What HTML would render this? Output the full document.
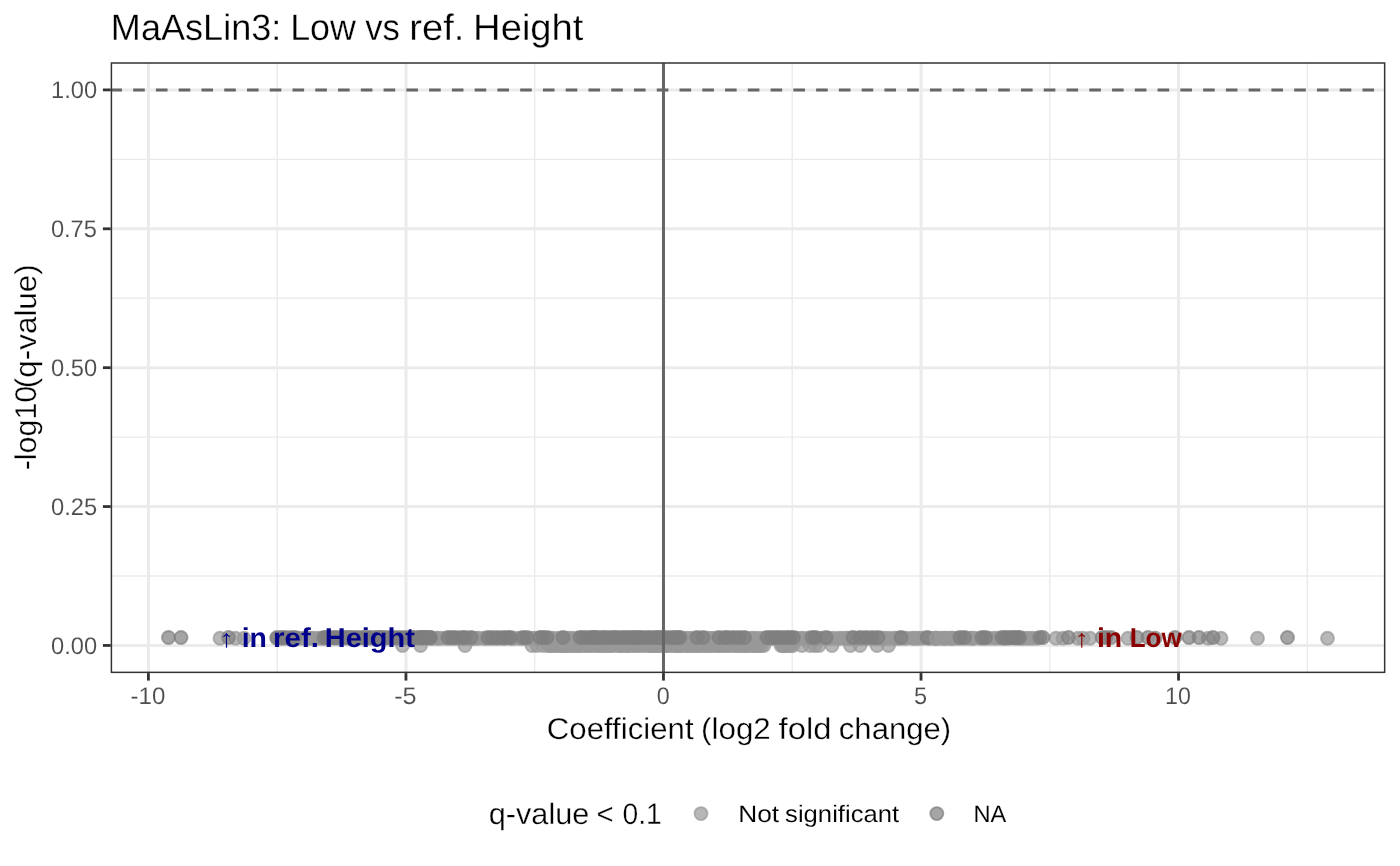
<!DOCTYPE html>
<html lang="en"><head><meta charset="utf-8"><title>MaAsLin3: Low vs ref. Height</title>
<style>
html,body{margin:0;padding:0;background:#fff;}
body{width:1400px;height:866px;overflow:hidden;}
svg{display:block;}
text{font-family:"Liberation Sans", "DejaVu Sans", sans-serif;text-rendering:geometricPrecision;}
.thin{stroke:#ffffff;stroke-width:0.3px;}
.thin2{stroke:#ffffff;stroke-width:0.1px;}
.ttl{fill:#000;}
.pl circle{fill:#999999;fill-opacity:.7;stroke:#999999;stroke-opacity:.7;stroke-width:1.9;}
.pd circle{fill:#7f7f7f;fill-opacity:.7;stroke:#7f7f7f;stroke-opacity:.7;stroke-width:1.9;}
</style></head><body>
<svg width="1400" height="866" viewBox="0 0 1400 866">
<rect width="1400" height="866" fill="#ffffff"/>
<defs><clipPath id="pc"><rect x="111.40" y="63.00" width="1273.25" height="609.35"/></clipPath></defs>
<g clip-path="url(#pc)">
<g stroke="#ebebeb" stroke-width="1.4" fill="none">
<line x1="277.19" y1="63.0" x2="277.19" y2="672.4"/>
<line x1="534.72" y1="63.0" x2="534.72" y2="672.4"/>
<line x1="792.25" y1="63.0" x2="792.25" y2="672.4"/>
<line x1="1049.78" y1="63.0" x2="1049.78" y2="672.4"/>
<line x1="1307.31" y1="63.0" x2="1307.31" y2="672.4"/>
<line x1="111.4" y1="576.01" x2="1384.7" y2="576.01"/>
<line x1="111.4" y1="437.12" x2="1384.7" y2="437.12"/>
<line x1="111.4" y1="298.23" x2="1384.7" y2="298.23"/>
<line x1="111.4" y1="159.34" x2="1384.7" y2="159.34"/>
</g>
<g stroke="#ebebeb" stroke-width="3" fill="none">
<line x1="148.42" y1="63.0" x2="148.42" y2="672.4"/>
<line x1="405.95" y1="63.0" x2="405.95" y2="672.4"/>
<line x1="663.48" y1="63.0" x2="663.48" y2="672.4"/>
<line x1="921.01" y1="63.0" x2="921.01" y2="672.4"/>
<line x1="1178.54" y1="63.0" x2="1178.54" y2="672.4"/>
<line x1="111.4" y1="645.45" x2="1384.7" y2="645.45"/>
<line x1="111.4" y1="506.56" x2="1384.7" y2="506.56"/>
<line x1="111.4" y1="367.68" x2="1384.7" y2="367.68"/>
<line x1="111.4" y1="228.79" x2="1384.7" y2="228.79"/>
<line x1="111.4" y1="89.90" x2="1384.7" y2="89.90"/>
</g>
<g class="pl">
<circle cx="488.7" cy="638.3" r="6.5"/><circle cx="1257.5" cy="638.3" r="6.5"/><circle cx="942.7" cy="638.3" r="6.5"/><circle cx="781.0" cy="645.5" r="6.5"/><circle cx="473.8" cy="638.3" r="6.5"/><circle cx="702.7" cy="645.5" r="6.5"/><circle cx="838.2" cy="638.3" r="6.5"/><circle cx="414.2" cy="638.3" r="6.5"/><circle cx="673.1" cy="638.3" r="6.5"/><circle cx="815.0" cy="645.5" r="6.5"/><circle cx="472.4" cy="638.3" r="6.5"/><circle cx="567.4" cy="645.5" r="6.5"/><circle cx="429.7" cy="638.3" r="6.5"/><circle cx="911.9" cy="638.3" r="6.5"/><circle cx="742.9" cy="638.3" r="6.5"/><circle cx="761.7" cy="645.5" r="6.5"/><circle cx="740.5" cy="645.5" r="6.5"/><circle cx="449.0" cy="638.3" r="6.5"/><circle cx="659.4" cy="645.5" r="6.5"/><circle cx="316.0" cy="638.3" r="6.5"/><circle cx="854.3" cy="638.3" r="6.5"/><circle cx="785.7" cy="638.3" r="6.5"/><circle cx="727.6" cy="645.5" r="6.5"/><circle cx="1008.8" cy="638.3" r="6.5"/><circle cx="700.1" cy="638.3" r="6.5"/><circle cx="339.2" cy="638.3" r="6.5"/><circle cx="1090.0" cy="638.3" r="6.5"/><circle cx="1037.0" cy="638.3" r="6.5"/><circle cx="464.0" cy="638.3" r="6.5"/><circle cx="235.5" cy="638.3" r="6.5"/><circle cx="752.8" cy="645.5" r="6.5"/><circle cx="619.4" cy="645.5" r="6.5"/><circle cx="922.7" cy="638.3" r="6.5"/><circle cx="651.4" cy="645.5" r="6.5"/><circle cx="997.4" cy="638.3" r="6.5"/><circle cx="578.5" cy="645.5" r="6.5"/><circle cx="777.9" cy="638.3" r="6.5"/><circle cx="657.9" cy="645.5" r="6.5"/><circle cx="750.2" cy="638.3" r="6.5"/><circle cx="832.0" cy="645.5" r="6.5"/><circle cx="746.6" cy="645.5" r="6.5"/><circle cx="699.6" cy="645.5" r="6.5"/><circle cx="588.3" cy="645.5" r="6.5"/><circle cx="394.7" cy="638.3" r="6.5"/><circle cx="994.1" cy="638.3" r="6.5"/><circle cx="654.8" cy="645.5" r="6.5"/><circle cx="590.8" cy="638.3" r="6.5"/><circle cx="572.9" cy="645.5" r="6.5"/><circle cx="873.6" cy="638.3" r="6.5"/><circle cx="433.1" cy="638.3" r="6.5"/><circle cx="764.5" cy="638.3" r="6.5"/><circle cx="693.7" cy="638.3" r="6.5"/><circle cx="441.9" cy="638.3" r="6.5"/><circle cx="438.3" cy="638.3" r="6.5"/><circle cx="430.5" cy="638.3" r="6.5"/><circle cx="847.4" cy="638.3" r="6.5"/><circle cx="759.4" cy="645.5" r="6.5"/><circle cx="648.3" cy="645.5" r="6.5"/><circle cx="841.2" cy="638.3" r="6.5"/><circle cx="711.3" cy="645.5" r="6.5"/><circle cx="553.4" cy="645.5" r="6.5"/><circle cx="476.3" cy="638.3" r="6.5"/><circle cx="600.5" cy="645.5" r="6.5"/><circle cx="821.8" cy="638.3" r="6.5"/><circle cx="535.1" cy="638.3" r="6.5"/><circle cx="827.0" cy="638.3" r="6.5"/><circle cx="418.7" cy="638.3" r="6.5"/><circle cx="390.2" cy="638.3" r="6.5"/><circle cx="782.5" cy="645.5" r="6.5"/><circle cx="1083.0" cy="638.3" r="6.5"/><circle cx="421.5" cy="638.3" r="6.5"/><circle cx="566.8" cy="638.3" r="6.5"/><circle cx="731.8" cy="638.3" r="6.5"/><circle cx="716.4" cy="638.3" r="6.5"/><circle cx="357.6" cy="638.3" r="6.5"/><circle cx="637.5" cy="645.5" r="6.5"/><circle cx="697.7" cy="645.5" r="6.5"/><circle cx="794.1" cy="638.3" r="6.5"/><circle cx="557.7" cy="645.5" r="6.5"/><circle cx="537.0" cy="645.5" r="6.5"/><circle cx="638.7" cy="645.5" r="6.5"/><circle cx="1063.0" cy="638.3" r="6.5"/><circle cx="354.8" cy="638.3" r="6.5"/><circle cx="465.0" cy="645.5" r="6.5"/><circle cx="755.8" cy="638.3" r="6.5"/><circle cx="966.8" cy="638.3" r="6.5"/><circle cx="756.7" cy="645.5" r="6.5"/><circle cx="800.8" cy="638.3" r="6.5"/><circle cx="446.3" cy="638.3" r="6.5"/><circle cx="674.4" cy="645.5" r="6.5"/><circle cx="642.7" cy="645.5" r="6.5"/><circle cx="410.3" cy="638.3" r="6.5"/><circle cx="738.0" cy="638.3" r="6.5"/><circle cx="668.6" cy="645.5" r="6.5"/><circle cx="392.0" cy="638.3" r="6.5"/><circle cx="320.2" cy="638.3" r="6.5"/><circle cx="687.4" cy="638.3" r="6.5"/><circle cx="402.5" cy="645.5" r="6.5"/><circle cx="636.1" cy="638.3" r="6.5"/><circle cx="655.2" cy="638.3" r="6.5"/><circle cx="608.2" cy="638.3" r="6.5"/><circle cx="683.8" cy="638.3" r="6.5"/><circle cx="347.4" cy="638.3" r="6.5"/><circle cx="694.2" cy="645.5" r="6.5"/><circle cx="299.1" cy="638.3" r="6.5"/><circle cx="495.3" cy="638.3" r="6.5"/><circle cx="596.7" cy="638.3" r="6.5"/><circle cx="479.0" cy="638.3" r="6.5"/><circle cx="621.0" cy="638.3" r="6.5"/><circle cx="951.0" cy="638.3" r="6.5"/><circle cx="829.7" cy="638.3" r="6.5"/><circle cx="963.5" cy="638.3" r="6.5"/><circle cx="747.2" cy="645.5" r="6.5"/><circle cx="567.6" cy="645.5" r="6.5"/><circle cx="286.5" cy="638.3" r="6.5"/><circle cx="1033.0" cy="638.3" r="6.5"/><circle cx="676.5" cy="645.5" r="6.5"/><circle cx="744.6" cy="645.5" r="6.5"/><circle cx="644.8" cy="638.3" r="6.5"/><circle cx="960.1" cy="638.3" r="6.5"/><circle cx="1128.0" cy="638.3" r="6.5"/><circle cx="548.9" cy="638.3" r="6.5"/><circle cx="657.4" cy="645.5" r="6.5"/><circle cx="772.4" cy="638.3" r="6.5"/><circle cx="625.7" cy="645.5" r="6.5"/><circle cx="945.4" cy="638.3" r="6.5"/><circle cx="548.5" cy="645.5" r="6.5"/><circle cx="732.0" cy="645.5" r="6.5"/><circle cx="789.2" cy="645.5" r="6.5"/><circle cx="650.0" cy="645.5" r="6.5"/><circle cx="787.1" cy="645.5" r="6.5"/><circle cx="279.6" cy="638.3" r="6.5"/><circle cx="974.5" cy="638.3" r="6.5"/><circle cx="629.7" cy="638.3" r="6.5"/><circle cx="608.2" cy="645.5" r="6.5"/><circle cx="632.5" cy="645.5" r="6.5"/><circle cx="934.2" cy="638.3" r="6.5"/><circle cx="561.3" cy="638.3" r="6.5"/><circle cx="1004.2" cy="638.3" r="6.5"/><circle cx="989.6" cy="638.3" r="6.5"/><circle cx="550.3" cy="638.3" r="6.5"/><circle cx="791.4" cy="638.3" r="6.5"/><circle cx="850.5" cy="645.5" r="6.5"/><circle cx="1020.3" cy="638.3" r="6.5"/><circle cx="904.4" cy="638.3" r="6.5"/><circle cx="936.4" cy="638.3" r="6.5"/><circle cx="820.1" cy="638.3" r="6.5"/><circle cx="1029.5" cy="638.3" r="6.5"/><circle cx="563.1" cy="645.5" r="6.5"/><circle cx="790.7" cy="645.5" r="6.5"/><circle cx="398.0" cy="638.3" r="6.5"/><circle cx="644.8" cy="645.5" r="6.5"/><circle cx="898.1" cy="638.3" r="6.5"/><circle cx="220.0" cy="638.3" r="6.5"/><circle cx="584.9" cy="645.5" r="6.5"/><circle cx="350.5" cy="638.3" r="6.5"/><circle cx="558.3" cy="638.3" r="6.5"/><circle cx="679.1" cy="645.5" r="6.5"/><circle cx="565.5" cy="638.3" r="6.5"/><circle cx="664.3" cy="645.5" r="6.5"/><circle cx="770.3" cy="638.3" r="6.5"/><circle cx="545.5" cy="638.3" r="6.5"/><circle cx="779.8" cy="638.3" r="6.5"/><circle cx="677.2" cy="638.3" r="6.5"/><circle cx="581.2" cy="645.5" r="6.5"/><circle cx="543.1" cy="638.3" r="6.5"/><circle cx="785.4" cy="645.5" r="6.5"/><circle cx="693.7" cy="645.5" r="6.5"/><circle cx="713.2" cy="638.3" r="6.5"/><circle cx="648.1" cy="638.3" r="6.5"/><circle cx="569.3" cy="638.3" r="6.5"/><circle cx="690.2" cy="638.3" r="6.5"/><circle cx="857.9" cy="638.3" r="6.5"/><circle cx="306.8" cy="638.3" r="6.5"/><circle cx="783.7" cy="645.5" r="6.5"/><circle cx="745.6" cy="638.3" r="6.5"/><circle cx="819.0" cy="645.5" r="6.5"/><circle cx="753.0" cy="638.3" r="6.5"/><circle cx="718.0" cy="645.5" r="6.5"/><circle cx="808.1" cy="638.3" r="6.5"/><circle cx="753.6" cy="645.5" r="6.5"/><circle cx="407.0" cy="638.3" r="6.5"/><circle cx="628.4" cy="645.5" r="6.5"/><circle cx="308.7" cy="638.3" r="6.5"/><circle cx="622.5" cy="645.5" r="6.5"/><circle cx="900.4" cy="638.3" r="6.5"/><circle cx="333.5" cy="638.3" r="6.5"/><circle cx="623.2" cy="638.3" r="6.5"/><circle cx="523.9" cy="638.3" r="6.5"/><circle cx="1208.0" cy="638.3" r="6.5"/><circle cx="381.0" cy="638.3" r="6.5"/><circle cx="690.2" cy="645.5" r="6.5"/><circle cx="548.8" cy="645.5" r="6.5"/><circle cx="587.4" cy="638.3" r="6.5"/><circle cx="881.5" cy="638.3" r="6.5"/><circle cx="810.0" cy="645.5" r="6.5"/><circle cx="1001.6" cy="638.3" r="6.5"/><circle cx="750.6" cy="645.5" r="6.5"/><circle cx="385.7" cy="638.3" r="6.5"/><circle cx="725.3" cy="638.3" r="6.5"/><circle cx="916.7" cy="638.3" r="6.5"/><circle cx="766.7" cy="638.3" r="6.5"/><circle cx="706.8" cy="638.3" r="6.5"/><circle cx="860.0" cy="645.5" r="6.5"/><circle cx="736.4" cy="645.5" r="6.5"/><circle cx="735.7" cy="645.5" r="6.5"/><circle cx="720.9" cy="638.3" r="6.5"/><circle cx="697.4" cy="638.3" r="6.5"/><circle cx="970.7" cy="638.3" r="6.5"/><circle cx="1017.1" cy="638.3" r="6.5"/><circle cx="592.7" cy="638.3" r="6.5"/><circle cx="1221.0" cy="638.3" r="6.5"/><circle cx="562.8" cy="645.5" r="6.5"/><circle cx="452.7" cy="638.3" r="6.5"/><circle cx="366.0" cy="638.3" r="6.5"/><circle cx="893.3" cy="638.3" r="6.5"/><circle cx="566.0" cy="645.5" r="6.5"/><circle cx="956.6" cy="638.3" r="6.5"/><circle cx="816.8" cy="638.3" r="6.5"/><circle cx="725.4" cy="645.5" r="6.5"/><circle cx="512.1" cy="638.3" r="6.5"/><circle cx="295.6" cy="638.3" r="6.5"/><circle cx="792.9" cy="645.5" r="6.5"/><circle cx="621.8" cy="645.5" r="6.5"/><circle cx="617.8" cy="645.5" r="6.5"/><circle cx="980.1" cy="638.3" r="6.5"/><circle cx="598.2" cy="645.5" r="6.5"/><circle cx="485.7" cy="638.3" r="6.5"/><circle cx="324.0" cy="638.3" r="6.5"/><circle cx="757.8" cy="645.5" r="6.5"/><circle cx="613.3" cy="638.3" r="6.5"/><circle cx="601.6" cy="645.5" r="6.5"/><circle cx="576.3" cy="645.5" r="6.5"/><circle cx="877.0" cy="645.5" r="6.5"/><circle cx="669.7" cy="638.3" r="6.5"/><circle cx="597.1" cy="645.5" r="6.5"/><circle cx="705.3" cy="645.5" r="6.5"/><circle cx="940.2" cy="638.3" r="6.5"/><circle cx="860.0" cy="638.3" r="6.5"/><circle cx="727.1" cy="638.3" r="6.5"/><circle cx="763.9" cy="645.5" r="6.5"/><circle cx="650.8" cy="638.3" r="6.5"/><circle cx="1327.5" cy="638.3" r="6.5"/><circle cx="1022.9" cy="638.3" r="6.5"/><circle cx="682.5" cy="645.5" r="6.5"/><circle cx="336.8" cy="638.3" r="6.5"/><circle cx="833.5" cy="638.3" r="6.5"/><circle cx="572.6" cy="638.3" r="6.5"/><circle cx="497.6" cy="638.3" r="6.5"/><circle cx="919.5" cy="638.3" r="6.5"/><circle cx="671.6" cy="638.3" r="6.5"/><circle cx="528.4" cy="638.3" r="6.5"/><circle cx="283.4" cy="638.3" r="6.5"/><circle cx="869.1" cy="638.3" r="6.5"/><circle cx="303.1" cy="638.3" r="6.5"/><circle cx="888.7" cy="638.3" r="6.5"/><circle cx="461.7" cy="638.3" r="6.5"/><circle cx="906.5" cy="638.3" r="6.5"/><circle cx="613.6" cy="645.5" r="6.5"/><circle cx="570.5" cy="645.5" r="6.5"/><circle cx="862.1" cy="638.3" r="6.5"/><circle cx="844.6" cy="638.3" r="6.5"/><circle cx="519.0" cy="638.3" r="6.5"/><circle cx="796.6" cy="638.3" r="6.5"/><circle cx="1155.0" cy="638.3" r="6.5"/><circle cx="802.0" cy="645.5" r="6.5"/><circle cx="875.6" cy="638.3" r="6.5"/><circle cx="783.7" cy="638.3" r="6.5"/><circle cx="715.0" cy="645.5" r="6.5"/><circle cx="292.4" cy="638.3" r="6.5"/><circle cx="739.1" cy="645.5" r="6.5"/><circle cx="704.5" cy="638.3" r="6.5"/><circle cx="666.5" cy="638.3" r="6.5"/><circle cx="580.3" cy="645.5" r="6.5"/><circle cx="642.1" cy="638.3" r="6.5"/><circle cx="851.4" cy="638.3" r="6.5"/><circle cx="469.7" cy="638.3" r="6.5"/><circle cx="351.7" cy="638.3" r="6.5"/><circle cx="532.0" cy="645.5" r="6.5"/><circle cx="458.9" cy="638.3" r="6.5"/><circle cx="680.2" cy="645.5" r="6.5"/><circle cx="667.0" cy="645.5" r="6.5"/><circle cx="863.9" cy="638.3" r="6.5"/><circle cx="309.9" cy="638.3" r="6.5"/><circle cx="985.7" cy="638.3" r="6.5"/><circle cx="555.8" cy="645.5" r="6.5"/><circle cx="1006.1" cy="638.3" r="6.5"/><circle cx="936.0" cy="638.3" r="6.5"/><circle cx="689.0" cy="645.5" r="6.5"/><circle cx="329.9" cy="638.3" r="6.5"/><circle cx="709.8" cy="638.3" r="6.5"/><circle cx="500.4" cy="638.3" r="6.5"/><circle cx="626.6" cy="645.5" r="6.5"/><circle cx="866.9" cy="638.3" r="6.5"/><circle cx="685.7" cy="645.5" r="6.5"/><circle cx="1078.0" cy="638.3" r="6.5"/><circle cx="593.3" cy="645.5" r="6.5"/><circle cx="605.0" cy="645.5" r="6.5"/><circle cx="709.0" cy="645.5" r="6.5"/><circle cx="531.7" cy="638.3" r="6.5"/><circle cx="281.6" cy="638.3" r="6.5"/><circle cx="436.9" cy="638.3" r="6.5"/><circle cx="760.2" cy="638.3" r="6.5"/><circle cx="803.3" cy="638.3" r="6.5"/><circle cx="952.0" cy="638.3" r="6.5"/><circle cx="553.4" cy="638.3" r="6.5"/><circle cx="776.2" cy="638.3" r="6.5"/><circle cx="605.2" cy="645.5" r="6.5"/><circle cx="378.3" cy="638.3" r="6.5"/><circle cx="1056.0" cy="638.3" r="6.5"/><circle cx="704.8" cy="645.5" r="6.5"/><circle cx="611.5" cy="645.5" r="6.5"/><circle cx="653.4" cy="645.5" r="6.5"/><circle cx="491.9" cy="638.3" r="6.5"/><circle cx="420.5" cy="645.5" r="6.5"/><circle cx="710.5" cy="645.5" r="6.5"/><circle cx="327.7" cy="638.3" r="6.5"/><circle cx="514.2" cy="638.3" r="6.5"/><circle cx="591.2" cy="645.5" r="6.5"/><circle cx="609.3" cy="645.5" r="6.5"/><circle cx="509.8" cy="638.3" r="6.5"/><circle cx="289.5" cy="638.3" r="6.5"/><circle cx="400.1" cy="638.3" r="6.5"/><circle cx="742.6" cy="645.5" r="6.5"/><circle cx="718.0" cy="645.5" r="6.5"/><circle cx="276.6" cy="638.3" r="6.5"/><circle cx="814.2" cy="638.3" r="6.5"/><circle cx="930.0" cy="638.3" r="6.5"/><circle cx="672.0" cy="645.5" r="6.5"/><circle cx="972.5" cy="638.3" r="6.5"/><circle cx="244.0" cy="638.3" r="6.5"/><circle cx="371.5" cy="638.3" r="6.5"/><circle cx="945.0" cy="638.3" r="6.5"/><circle cx="953.5" cy="638.3" r="6.5"/><circle cx="665.9" cy="645.5" r="6.5"/><circle cx="368.4" cy="638.3" r="6.5"/><circle cx="663.3" cy="645.5" r="6.5"/><circle cx="577.0" cy="638.3" r="6.5"/><circle cx="888.5" cy="645.5" r="6.5"/><circle cx="1026.0" cy="638.3" r="6.5"/><circle cx="697.3" cy="645.5" r="6.5"/><circle cx="609.4" cy="638.3" r="6.5"/><circle cx="849.1" cy="638.3" r="6.5"/><circle cx="312.4" cy="638.3" r="6.5"/><circle cx="735.5" cy="638.3" r="6.5"/><circle cx="504.7" cy="638.3" r="6.5"/><circle cx="587.1" cy="645.5" r="6.5"/><circle cx="662.3" cy="638.3" r="6.5"/><circle cx="455.2" cy="638.3" r="6.5"/><circle cx="729.0" cy="645.5" r="6.5"/><circle cx="601.8" cy="638.3" r="6.5"/><circle cx="503.9" cy="638.3" r="6.5"/><circle cx="603.5" cy="638.3" r="6.5"/><circle cx="914.2" cy="638.3" r="6.5"/><circle cx="521.3" cy="638.3" r="6.5"/><circle cx="626.0" cy="638.3" r="6.5"/><circle cx="615.6" cy="638.3" r="6.5"/><circle cx="809.4" cy="638.3" r="6.5"/><circle cx="640.8" cy="638.3" r="6.5"/><circle cx="574.3" cy="645.5" r="6.5"/><circle cx="658.7" cy="638.3" r="6.5"/><circle cx="720.3" cy="645.5" r="6.5"/><circle cx="681.4" cy="638.3" r="6.5"/><circle cx="403.9" cy="638.3" r="6.5"/><circle cx="677.4" cy="645.5" r="6.5"/><circle cx="543.0" cy="645.5" r="6.5"/><circle cx="582.3" cy="638.3" r="6.5"/><circle cx="687.0" cy="645.5" r="6.5"/><circle cx="629.4" cy="645.5" r="6.5"/><circle cx="948.2" cy="638.3" r="6.5"/><circle cx="877.9" cy="638.3" r="6.5"/><circle cx="424.6" cy="638.3" r="6.5"/><circle cx="579.7" cy="638.3" r="6.5"/><circle cx="484.1" cy="638.3" r="6.5"/><circle cx="928.2" cy="638.3" r="6.5"/><circle cx="723.5" cy="645.5" r="6.5"/><circle cx="1013.6" cy="638.3" r="6.5"/><circle cx="885.2" cy="638.3" r="6.5"/><circle cx="362.6" cy="638.3" r="6.5"/><circle cx="539.4" cy="638.3" r="6.5"/><circle cx="343.1" cy="638.3" r="6.5"/><circle cx="635.3" cy="645.5" r="6.5"/><circle cx="632.3" cy="638.3" r="6.5"/><circle cx="322.8" cy="638.3" r="6.5"/><circle cx="375.0" cy="638.3" r="6.5"/><circle cx="896.1" cy="638.3" r="6.5"/><circle cx="467.3" cy="638.3" r="6.5"/><circle cx="732.6" cy="638.3" r="6.5"/><circle cx="551.8" cy="645.5" r="6.5"/><circle cx="560.7" cy="645.5" r="6.5"/><circle cx="983.1" cy="638.3" r="6.5"/><circle cx="882.0" cy="638.3" r="6.5"/>
</g>
<g class="pd">
<circle cx="168.5" cy="637.5" r="6.5"/><circle cx="181.0" cy="637.5" r="6.5"/><circle cx="228.5" cy="637.5" r="6.5"/><circle cx="826.0" cy="637.5" r="6.5"/><circle cx="901.0" cy="637.5" r="6.5"/><circle cx="927.0" cy="637.5" r="6.5"/><circle cx="1040.0" cy="637.5" r="6.5"/><circle cx="1043.0" cy="637.5" r="6.5"/><circle cx="1068.5" cy="637.5" r="6.5"/><circle cx="1137.0" cy="637.5" r="6.5"/><circle cx="1148.0" cy="637.5" r="6.5"/><circle cx="1175.0" cy="637.5" r="6.5"/><circle cx="1189.0" cy="637.5" r="6.5"/><circle cx="1199.0" cy="637.5" r="6.5"/><circle cx="1213.0" cy="637.5" r="6.5"/><circle cx="1287.5" cy="637.5" r="6.5"/><circle cx="703.0" cy="637.5" r="6.5"/><circle cx="697.0" cy="637.5" r="6.5"/><circle cx="853.0" cy="637.5" r="6.5"/><circle cx="860.0" cy="637.5" r="6.5"/><circle cx="866.0" cy="637.5" r="6.5"/><circle cx="872.0" cy="637.5" r="6.5"/><circle cx="878.0" cy="637.5" r="6.5"/><circle cx="960.0" cy="637.5" r="6.5"/><circle cx="964.5" cy="637.5" r="6.5"/><circle cx="982.0" cy="637.5" r="6.5"/><circle cx="985.5" cy="637.5" r="6.5"/><circle cx="1102.0" cy="637.5" r="6.5"/><circle cx="1106.0" cy="637.5" r="6.5"/><circle cx="1111.0" cy="637.5" r="6.5"/><circle cx="277.0" cy="637.5" r="6.5"/><circle cx="281.5" cy="637.5" r="6.5"/><circle cx="285.1" cy="637.5" r="6.5"/><circle cx="291.0" cy="637.5" r="6.5"/><circle cx="295.0" cy="637.5" r="6.5"/><circle cx="324.0" cy="637.5" r="6.5"/><circle cx="326.7" cy="637.5" r="6.5"/><circle cx="329.4" cy="637.5" r="6.5"/><circle cx="333.6" cy="637.5" r="6.5"/><circle cx="336.5" cy="637.5" r="6.5"/><circle cx="341.4" cy="637.5" r="6.5"/><circle cx="344.9" cy="637.5" r="6.5"/><circle cx="347.4" cy="637.5" r="6.5"/><circle cx="350.1" cy="637.5" r="6.5"/><circle cx="353.3" cy="637.5" r="6.5"/><circle cx="357.3" cy="637.5" r="6.5"/><circle cx="362.2" cy="637.5" r="6.5"/><circle cx="364.6" cy="637.5" r="6.5"/><circle cx="367.8" cy="637.5" r="6.5"/><circle cx="370.4" cy="637.5" r="6.5"/><circle cx="375.4" cy="637.5" r="6.5"/><circle cx="377.8" cy="637.5" r="6.5"/><circle cx="380.0" cy="637.5" r="6.5"/><circle cx="382.1" cy="637.5" r="6.5"/><circle cx="385.3" cy="637.5" r="6.5"/><circle cx="390.0" cy="637.5" r="6.5"/><circle cx="394.7" cy="637.5" r="6.5"/><circle cx="398.9" cy="637.5" r="6.5"/><circle cx="403.8" cy="637.5" r="6.5"/><circle cx="408.6" cy="637.5" r="6.5"/><circle cx="411.6" cy="637.5" r="6.5"/><circle cx="414.2" cy="637.5" r="6.5"/><circle cx="419.0" cy="637.5" r="6.5"/><circle cx="423.2" cy="637.5" r="6.5"/><circle cx="425.3" cy="637.5" r="6.5"/><circle cx="429.3" cy="637.5" r="6.5"/><circle cx="420.0" cy="637.5" r="6.5"/><circle cx="423.8" cy="637.5" r="6.5"/><circle cx="427.5" cy="637.5" r="6.5"/><circle cx="430.6" cy="637.5" r="6.5"/><circle cx="448.0" cy="637.5" r="6.5"/><circle cx="451.8" cy="637.5" r="6.5"/><circle cx="455.9" cy="637.5" r="6.5"/><circle cx="461.8" cy="637.5" r="6.5"/><circle cx="465.1" cy="637.5" r="6.5"/><circle cx="471.0" cy="637.5" r="6.5"/><circle cx="488.0" cy="637.5" r="6.5"/><circle cx="492.1" cy="637.5" r="6.5"/><circle cx="497.5" cy="637.5" r="6.5"/><circle cx="503.0" cy="637.5" r="6.5"/><circle cx="507.3" cy="637.5" r="6.5"/><circle cx="510.4" cy="637.5" r="6.5"/><circle cx="523.0" cy="637.5" r="6.5"/><circle cx="526.8" cy="637.5" r="6.5"/><circle cx="540.0" cy="637.5" r="6.5"/><circle cx="543.2" cy="637.5" r="6.5"/><circle cx="547.0" cy="637.5" r="6.5"/><circle cx="563.0" cy="637.5" r="6.5"/><circle cx="580.0" cy="637.5" r="6.5"/><circle cx="583.0" cy="637.5" r="6.5"/><circle cx="587.1" cy="637.5" r="6.5"/><circle cx="591.0" cy="637.5" r="6.5"/><circle cx="593.1" cy="637.5" r="6.5"/><circle cx="595.2" cy="637.5" r="6.5"/><circle cx="597.3" cy="637.5" r="6.5"/><circle cx="601.6" cy="637.5" r="6.5"/><circle cx="604.3" cy="637.5" r="6.5"/><circle cx="608.1" cy="637.5" r="6.5"/><circle cx="612.4" cy="637.5" r="6.5"/><circle cx="615.2" cy="637.5" r="6.5"/><circle cx="617.9" cy="637.5" r="6.5"/><circle cx="622.3" cy="637.5" r="6.5"/><circle cx="625.8" cy="637.5" r="6.5"/><circle cx="628.5" cy="637.5" r="6.5"/><circle cx="632.3" cy="637.5" r="6.5"/><circle cx="635.1" cy="637.5" r="6.5"/><circle cx="637.8" cy="637.5" r="6.5"/><circle cx="639.8" cy="637.5" r="6.5"/><circle cx="643.7" cy="637.5" r="6.5"/><circle cx="648.0" cy="637.5" r="6.5"/><circle cx="651.5" cy="637.5" r="6.5"/><circle cx="655.9" cy="637.5" r="6.5"/><circle cx="658.0" cy="637.5" r="6.5"/><circle cx="660.5" cy="637.5" r="6.5"/><circle cx="663.7" cy="637.5" r="6.5"/><circle cx="668.1" cy="637.5" r="6.5"/><circle cx="672.5" cy="637.5" r="6.5"/><circle cx="675.5" cy="637.5" r="6.5"/><circle cx="678.1" cy="637.5" r="6.5"/><circle cx="680.0" cy="637.5" r="6.5"/><circle cx="719.0" cy="637.5" r="6.5"/><circle cx="724.8" cy="637.5" r="6.5"/><circle cx="728.3" cy="637.5" r="6.5"/><circle cx="733.7" cy="637.5" r="6.5"/><circle cx="739.0" cy="637.5" r="6.5"/><circle cx="744.4" cy="637.5" r="6.5"/><circle cx="767.0" cy="637.5" r="6.5"/><circle cx="771.2" cy="637.5" r="6.5"/><circle cx="774.9" cy="637.5" r="6.5"/><circle cx="778.5" cy="637.5" r="6.5"/><circle cx="782.2" cy="637.5" r="6.5"/><circle cx="786.8" cy="637.5" r="6.5"/><circle cx="790.0" cy="637.5" r="6.5"/><circle cx="793.4" cy="637.5" r="6.5"/><circle cx="812.0" cy="637.5" r="6.5"/><circle cx="815.4" cy="637.5" r="6.5"/><circle cx="1002.0" cy="637.5" r="6.5"/><circle cx="1005.0" cy="637.5" r="6.5"/><circle cx="1008.5" cy="637.5" r="6.5"/><circle cx="1012.0" cy="637.5" r="6.5"/><circle cx="1015.0" cy="637.5" r="6.5"/><circle cx="1017.5" cy="637.5" r="6.5"/><circle cx="1019.5" cy="637.5" r="6.5"/>
</g>
<g class="pl">
<circle cx="936.0" cy="638.3" r="6.5"/><circle cx="1155.0" cy="638.3" r="6.5"/>
</g>
<line x1="663.48" y1="63.0" x2="663.48" y2="672.4" stroke="#666666" stroke-width="3"/>
<line x1="111.4" y1="89.9" x2="1384.7" y2="89.9" stroke="#666666" stroke-width="3" stroke-dasharray="11.6 11.165" stroke-dashoffset="1"/>
<text id="annL" fill="#00008b"><tspan x="219.59" y="647.0" font-size="25.0" font-weight="normal" textLength="14.06" lengthAdjust="spacingAndGlyphs">↑</tspan> <tspan x="241.71" y="646.8" font-size="27.2" font-weight="bold" textLength="25.23" lengthAdjust="spacingAndGlyphs">in</tspan> <tspan x="273.10" y="646.8" font-size="27.2" font-weight="bold" textLength="45.86" lengthAdjust="spacingAndGlyphs">ref.</tspan> <tspan x="324.84" y="646.8" font-size="27.2" font-weight="bold" textLength="90.01" lengthAdjust="spacingAndGlyphs">Height</tspan></text>
<text id="annR" fill="#8b0000"><tspan x="1074.67" y="647.0" font-size="25.0" font-weight="normal" textLength="13.96" lengthAdjust="spacingAndGlyphs">↑</tspan> <tspan x="1096.90" y="646.8" font-size="27.2" font-weight="bold" textLength="25.35" lengthAdjust="spacingAndGlyphs">in</tspan> <tspan x="1129.63" y="646.8" font-size="27.2" font-weight="bold" textLength="51.99" lengthAdjust="spacingAndGlyphs">Low</tspan></text>
</g>
<rect x="111.40" y="63.00" width="1273.25" height="609.35" fill="none" stroke="#333333" stroke-width="1.5"/>
<g stroke="#333333" stroke-width="2.8">
<line x1="148.42" y1="673.1" x2="148.42" y2="680.6"/>
<line x1="405.95" y1="673.1" x2="405.95" y2="680.6"/>
<line x1="663.48" y1="673.1" x2="663.48" y2="680.6"/>
<line x1="921.01" y1="673.1" x2="921.01" y2="680.6"/>
<line x1="1178.54" y1="673.1" x2="1178.54" y2="680.6"/>
<line x1="102.9" y1="645.45" x2="110.7" y2="645.45"/>
<line x1="102.9" y1="506.56" x2="110.7" y2="506.56"/>
<line x1="102.9" y1="367.68" x2="110.7" y2="367.68"/>
<line x1="102.9" y1="228.79" x2="110.7" y2="228.79"/>
<line x1="102.9" y1="89.90" x2="110.7" y2="89.90"/>
</g>
<text id="title" class="thin" fill="#000"><tspan x="110.82" y="40.0" font-size="36.9" font-weight="normal" textLength="170.55" lengthAdjust="spacingAndGlyphs">MaAsLin3:</tspan> <tspan x="290.14" y="40.0" font-size="36.9" font-weight="normal" textLength="65.74" lengthAdjust="spacingAndGlyphs">Low</tspan> <tspan x="365.23" y="40.0" font-size="36.9" font-weight="normal" textLength="34.68" lengthAdjust="spacingAndGlyphs">vs</tspan> <tspan x="409.26" y="40.0" font-size="36.9" font-weight="normal" textLength="55.13" lengthAdjust="spacingAndGlyphs">ref.</tspan> <tspan x="473.14" y="40.0" font-size="36.9" font-weight="normal" textLength="110.26" lengthAdjust="spacingAndGlyphs">Height</tspan></text>
<text id="xlab" class="thin" fill="#000"><tspan x="546.79" y="738.8" font-size="30.1" font-weight="normal" textLength="146.82" lengthAdjust="spacingAndGlyphs">Coefficient</tspan> <tspan x="701.01" y="738.8" font-size="30.1" font-weight="normal" textLength="69.83" lengthAdjust="spacingAndGlyphs">(log2</tspan> <tspan x="778.56" y="738.8" font-size="30.1" font-weight="normal" textLength="52.86" lengthAdjust="spacingAndGlyphs">fold</tspan> <tspan x="838.85" y="738.8" font-size="30.1" font-weight="normal" textLength="112.23" lengthAdjust="spacingAndGlyphs">change)</tspan></text>
<text id="ylab" class="thin" fill="#000" transform="translate(35.9,468.8) rotate(-90)"><tspan x="-1.52" y="0.0" font-size="30.1" font-weight="normal" textLength="84.54" lengthAdjust="spacingAndGlyphs">-log10</tspan><tspan x="80.61" y="0.0" font-size="30.1" font-weight="normal" textLength="123.98" lengthAdjust="spacingAndGlyphs">(q-value)</tspan></text>
<text id="lgt" class="thin" fill="#000"><tspan x="488.75" y="823.6" font-size="29.7" font-weight="normal" textLength="100.57" lengthAdjust="spacingAndGlyphs">q-value</tspan> <tspan x="596.57" y="823.6" font-size="29.7" font-weight="normal" textLength="17.10" lengthAdjust="spacingAndGlyphs">&lt;</tspan> <tspan x="622.41" y="823.6" font-size="29.7" font-weight="normal" textLength="39.35" lengthAdjust="spacingAndGlyphs">0.1</tspan></text>
<text id="lg1" class="thin2" fill="#000"><tspan x="738.18" y="821.6" font-size="23.7" font-weight="normal" textLength="40.94" lengthAdjust="spacingAndGlyphs">Not</tspan> <tspan x="785.09" y="821.6" font-size="23.7" font-weight="normal" textLength="114.08" lengthAdjust="spacingAndGlyphs">significant</tspan></text>
<text id="lg2" class="thin2" fill="#000"><tspan x="973.40" y="821.6" font-size="23.7" font-weight="normal" textLength="32.85" lengthAdjust="spacingAndGlyphs">NA</tspan></text>
<text id="yt0" class="thin2" fill="#4d4d4d"><tspan x="51.12" y="653.8" font-size="24.1" font-weight="normal" textLength="46.02" lengthAdjust="spacingAndGlyphs">0.00</tspan></text>
<text id="yt25" class="thin2" fill="#4d4d4d"><tspan x="51.02" y="514.9" font-size="24.1" font-weight="normal" textLength="46.12" lengthAdjust="spacingAndGlyphs">0.25</tspan></text>
<text id="yt50" class="thin2" fill="#4d4d4d"><tspan x="51.02" y="376.0" font-size="24.1" font-weight="normal" textLength="46.12" lengthAdjust="spacingAndGlyphs">0.50</tspan></text>
<text id="yt75" class="thin2" fill="#4d4d4d"><tspan x="50.92" y="237.1" font-size="24.1" font-weight="normal" textLength="46.02" lengthAdjust="spacingAndGlyphs">0.75</tspan></text>
<text id="yt100" class="thin2" fill="#4d4d4d"><tspan x="51.03" y="98.3" font-size="24.1" font-weight="normal" textLength="46.10" lengthAdjust="spacingAndGlyphs">1.00</tspan></text>
<text id="xt0" class="thin2" fill="#4d4d4d"><tspan x="130.55" y="703.6" font-size="24.1" font-weight="normal" textLength="34.72" lengthAdjust="spacingAndGlyphs">-10</tspan></text>
<text id="xt5" class="thin2" fill="#4d4d4d"><tspan x="394.19" y="703.6" font-size="24.1" font-weight="normal" textLength="22.45" lengthAdjust="spacingAndGlyphs">-5</tspan></text>
<text id="xt10" class="thin2" fill="#4d4d4d"><tspan x="656.83" y="703.6" font-size="24.1" font-weight="normal" textLength="12.99" lengthAdjust="spacingAndGlyphs">0</tspan></text>
<text id="xt15" class="thin2" fill="#4d4d4d"><tspan x="914.12" y="703.6" font-size="24.1" font-weight="normal" textLength="13.11" lengthAdjust="spacingAndGlyphs">5</tspan></text>
<text id="xt20" class="thin2" fill="#4d4d4d"><tspan x="1165.07" y="703.6" font-size="24.1" font-weight="normal" textLength="25.85" lengthAdjust="spacingAndGlyphs">10</tspan></text>
<g class="pl"><circle cx="701" cy="813.6" r="6.5"/></g>
<g class="pd"><circle cx="936.8" cy="813.6" r="6.5"/></g>
</svg>
</body></html>
